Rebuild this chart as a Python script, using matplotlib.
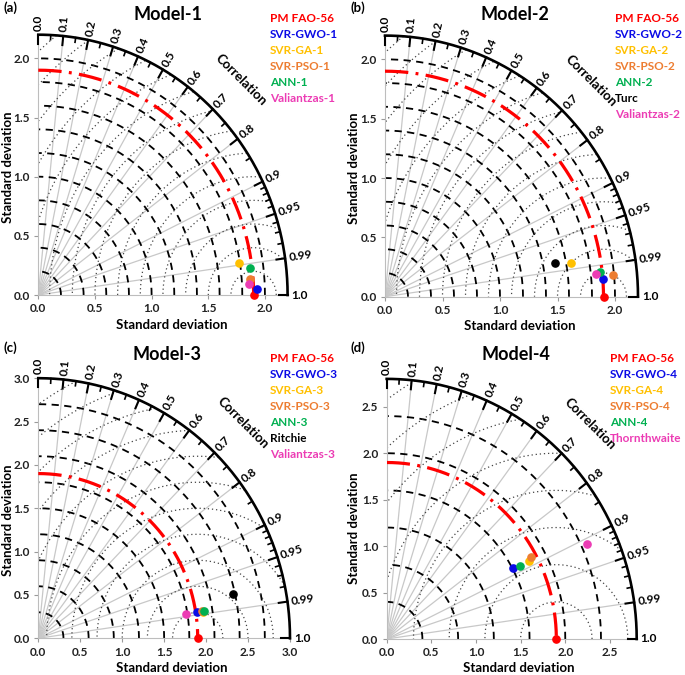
#! /usr/bin/env python3

import numpy as np
import matplotlib.pyplot as plt

plt.rcParams['font.family'] = ['Lato', 'DejaVu Sans']
plt.rcParams['font.weight'] = 'bold'

ref_std = 1.9
corr_lines = [0.1, 0.2, 0.3, 0.4, 0.5, 0.6, 0.7, 0.8, 0.9, 0.95, 0.99]
corr_labels = [0.0, 0.1, 0.2, 0.3, 0.4, 0.5, 0.6, 0.7, 0.8, 0.9, 0.95, 0.99, 1.0]
corr_minor = [0.05, 0.15, 0.25, 0.35, 0.45, 0.55, 0.65, 0.75, 0.85,
              0.91, 0.92, 0.93, 0.94, 0.96, 0.97, 0.98]

red, blue, gold, orange, green, black, pink = ('#ff0000', '#0a0ae6', '#ffc000', '#ed7d31',
                                                '#00b050', '#000000', '#ec3cb4')

names1 = ['PM FAO-56', 'SVR-GWO-1', 'SVR-GA-1', 'SVR-PSO-1', 'ANN-1', 'Valiantzas-1']
std1 = [1.90, 1.928, 1.791, 1.873, 1.882, 1.859]
corr1 = [1.0, 0.9996, 0.9888, 0.9974, 0.9928, 0.9988]
colors1 = [red, blue, gold, orange, green, pink]

names2 = ['PM FAO-56', 'SVR-GWO-2', 'SVR-GA-2', 'SVR-PSO-2', 'ANN-2', 'Turc', 'Valiantzas-2']
std2 = [1.90, 1.899, 1.640, 1.994, 1.879, 1.505, 1.842]
corr2 = [1.0, 0.9970, 0.9847, 0.9958, 0.9937, 0.9818, 0.9947]
colors2 = [red, blue, gold, orange, green, black, pink]

names3 = ['PM FAO-56', 'SVR-GWO-3', 'SVR-GA-3', 'SVR-PSO-3', 'ANN-3', 'Ritchie', 'Valiantzas-3']
std3 = [1.90, 1.917, 1.983, 1.975, 2.000, 2.380, 1.782]
corr3 = [1.0, 0.9870, 0.9885, 0.9876, 0.9875, 0.9767, 0.9878]
colors3 = [red, blue, gold, orange, green, black, pink]

names4 = ['PM FAO-56', 'SVR-GWO-4', 'SVR-GA-4', 'SVR-PSO-4', 'ANN-4', 'Thornthwaite']
std4 = [1.90, 1.613, 1.800, 1.842, 1.689, 2.467]
corr4 = [1.0, 0.8793, 0.8835, 0.8775, 0.8842, 0.9094]
colors4 = [red, blue, gold, orange, green, pink]

W, H = 685, 675
fig = plt.figure(figsize=(W / 100, H / 100), dpi=100)


def px(x, y):
    return x / W, 1 - y / H


def taylor(rect, smax, dstep, rstep, ticks, names, stds, corrs, colors,
           title, tag, pos):
    # rect in pixels: left, top, right, bottom
    l, t, r, b = rect
    ax = fig.add_axes([l / W, 1 - b / H, (r - l) / W, (b - t) / H])
    ax.set_xlim(0, smax)
    ax.set_ylim(0, smax)
    for s in ['top', 'right']:
        ax.spines[s].set_visible(False)
    for s in ['left', 'bottom']:
        ax.spines[s].set_color('#bdbdbd')
    ax.set_xticks(ticks)
    ax.set_yticks(ticks)
    ax.set_xticklabels([f'{v:.1f}' for v in ticks])
    ax.set_yticklabels([f'{v:.1f}' for v in ticks])
    ax.tick_params(length=3, color='#9a9a9a', labelsize=8.5, pad=3, labelcolor='#222222')

    q = np.linspace(0, np.pi / 2, 400)
    for c in corr_lines:
        th = np.arccos(c)
        ax.plot([0, smax * np.cos(th)], [0, smax * np.sin(th)], color='#c8c8c8', lw=0.9, zorder=1)
    for rr in np.arange(dstep, smax - 1e-6, dstep):
        ax.plot(rr * np.cos(q), rr * np.sin(q), color='k', lw=1.3, ls=(0, (4, 3)), zorder=2)
    p = np.linspace(0, np.pi, 800)
    for rr in np.arange(rstep, ref_std + smax, rstep):
        x = ref_std + rr * np.cos(p)
        y = rr * np.sin(p)
        m = (x < 0) | (np.hypot(x, y) > smax)
        x[m] = np.nan
        y[m] = np.nan
        ax.plot(x, y, color='#444444', lw=0.9, ls=(0, (1, 2.3)), zorder=2)
    ax.plot(ref_std * np.sin(q), ref_std * np.cos(q), color=red, lw=2.3,
            ls=(0, (7.3, 2.3, 0.9, 2.3)), zorder=3)
    ax.plot(smax * np.cos(q), smax * np.sin(q), color='k', lw=1.9, zorder=4, clip_on=False)

    for c in corr_labels:
        th = np.arccos(c)
        ax.plot([smax * np.cos(th), 0.965 * smax * np.cos(th)],
                [smax * np.sin(th), 0.965 * smax * np.sin(th)], color='k', lw=1.5,
                zorder=4, clip_on=False)
        lab = f'{c:.2f}' if c in (0.95, 0.99) else f'{c:.1f}'
        ax.text(1.015 * smax * np.cos(th), 1.015 * smax * np.sin(th), lab,
                rotation=np.degrees(th), rotation_mode='anchor', ha='left', va='center',
                fontsize=8.5)
    for c in corr_minor:
        th = np.arccos(c)
        ax.plot([smax * np.cos(th), 0.982 * smax * np.cos(th)],
                [smax * np.sin(th), 0.982 * smax * np.sin(th)], color='k', lw=1.2,
                zorder=4, clip_on=False)
    ax.text(1.16 * smax * np.cos(np.radians(45.5)), 1.16 * smax * np.sin(np.radians(45.5)),
            'Correlation', rotation=-45, ha='center', va='center', fontsize=9.5)

    for s, c, col in zip(stds, corrs, colors):
        th = np.arccos(c)
        ax.plot(s * np.cos(th), s * np.sin(th), 'o', color=col, ms=5.2, zorder=6, clip_on=False)

    fig.text(*px(pos['title'][0], pos['title'][1]), title, ha='center', va='center', fontsize=13)
    fig.text(*px(pos['tag'][0], pos['tag'][1]), tag, ha='left', va='center', fontsize=9.5)
    fig.text(*px(pos['xl'][0], pos['xl'][1]), 'Standard deviation', ha='center', va='center',
             fontsize=9.5)
    fig.text(*px(pos['yl'][0], pos['yl'][1]), 'Standard deviation', ha='center', va='center',
             fontsize=9.5, rotation=90)
    lx, ly = pos['leg']
    for i, (n, col) in enumerate(zip(names, colors)):
        fig.text(*px(lx, ly + 16 * i), n, color=col, ha='left', va='center', fontsize=8.5)
    return ax


taylor((38.3, 34.7, 287.6, 295), 2.2, 0.2, 0.2, [0, 0.5, 1.0, 1.5, 2.0],
       names1, std1, corr1, colors1, 'Model-1', '(a)',
       {'title': (168, 14), 'tag': (3, 8), 'xl': (172, 325), 'yl': (8, 167), 'leg': (270, 18)})
taylor((385, 35.6, 638, 296.7), 2.2, 0.2, 0.2, [0, 0.5, 1.0, 1.5, 2.0],
       names2, std2, corr2, colors2, 'Model-2', '(b)',
       {'title': (515, 14), 'tag': (350, 8), 'xl': (520, 326), 'yl': (354, 168), 'leg': (615, 18)})
taylor((38.3, 378.2, 290, 638.3), 3.0, 0.3, 0.3, [0, 0.5, 1.0, 1.5, 2.0, 2.5, 3.0],
       names3, std3, corr3, colors3, 'Model-3', '(c)',
       {'title': (167, 355), 'tag': (3, 348), 'xl': (172, 668), 'yl': (8, 520), 'leg': (270, 359)})
taylor((386.7, 378.9, 636.7, 639), 2.8, 0.4, 0.4, [0, 0.5, 1.0, 1.5, 2.0, 2.5],
       names4, std4, corr4, colors4, 'Model-4', '(d)',
       {'title': (516, 355), 'tag': (350, 348), 'xl': (519, 668), 'yl': (354, 528), 'leg': (610, 359)})

fig.savefig('out.png', dpi=100)
